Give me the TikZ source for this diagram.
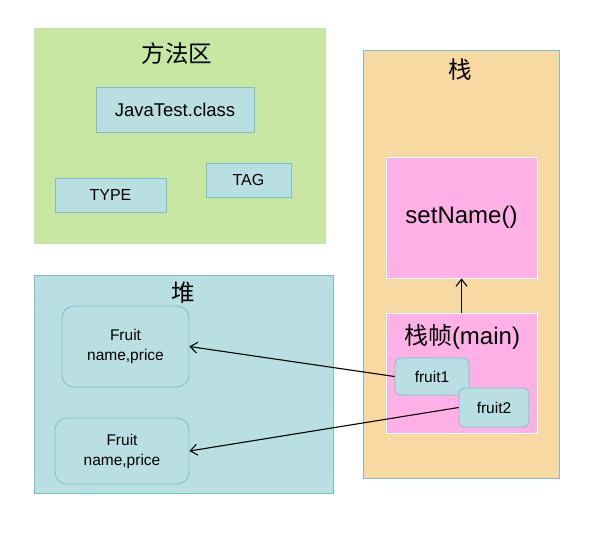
\documentclass[tikz,border=0pt]{standalone}
\usepackage{fontspec}
\setmainfont{Liberation Sans}
\newfontfamily\cjk{Noto Sans CJK SC}
\usetikzlibrary{arrows.meta}
\definecolor{areagreen}{RGB}{198,230,162}
\definecolor{boxblue}{RGB}{185,223,227}
\definecolor{boxline}{RGB}{120,192,202}
\definecolor{stackorange}{RGB}{249,217,162}
\definecolor{framepink}{RGB}{255,176,230}
\tikzset{
  area/.style={draw=boxline,line width=0.8pt,inner sep=0pt},
  membox/.style={fill=boxblue,draw=boxline,line width=0.8pt,inner sep=0pt,font=\fontsize{16}{19}\selectfont},
  objbox/.style={membox,rounded corners=12pt,align=center,font=\fontsize{15.5}{20}\selectfont},
  refbox/.style={membox,rounded corners=6pt,font=\fontsize{15.5}{18}\selectfont},
  framebox/.style={fill=framepink,draw=white,line width=0.8pt,inner sep=0pt},
  title/.style={font=\cjk\fontsize{23.5}{28}\selectfont},
  ref/.style={-{Straight Barb[length=7pt,width=11pt]},line width=1.1pt}
}
\begin{document}
\begin{tikzpicture}[x=1pt,y=-1pt]
  \useasboundingbox (0,0) rectangle (594,542);
  % method area
  \node[area,draw=none,fill=areagreen,minimum width=292pt,minimum height=216pt] (method) at (180,136) {};
  \node[title] (methodtitle) at (177,54) {方法区};
  \node[membox,minimum width=158pt,minimum height=45pt,font=\fontsize{18.5}{22}\selectfont] (javatest) at (175,109.5) {JavaTest.class};
  \node[membox,minimum width=111pt,minimum height=34pt] (type) at (110.5,195) {TYPE};
  \node[membox,minimum width=85pt,minimum height=34pt] (tag) at (248.5,180) {TAG};
  % stack
  \node[area,fill=stackorange,minimum width=196pt,minimum height=428pt] (stack) at (461,264) {};
  \node[title] (stacktitle) at (460,70) {栈};
  \node[framebox,minimum width=151pt,minimum height=121pt,font=\fontsize{24}{28}\selectfont] (setname) at (461.5,217.5) {setName()};
  \node[framebox,minimum width=151pt,minimum height=120pt] (mainframe) at (461.5,373) {};
  \node[font=\fontsize{24}{28}\selectfont] (frametitle) at (462,337) {{\cjk 栈帧}(main)};
  \node[refbox,minimum width=74pt,minimum height=37pt] (fruit1) at (432,376.5) {fruit1};
  \node[refbox,minimum width=70pt,minimum height=39pt] (fruit2) at (494,407.5) {fruit2};
  % heap
  \node[area,fill=boxblue,minimum width=299pt,minimum height=218pt] (heap) at (183.5,384) {};
  \node[title] (heaptitle) at (183,293) {堆};
  \node[objbox,minimum width=127pt,minimum height=81pt] (objA) at (125.5,346.5) {Fruit\\name,price};
  \node[objbox,minimum width=134pt,minimum height=66pt] (objB) at (122,451) {Fruit\\name,price};
  % references
  \draw[ref] (mainframe.north) -- (setname.south);
  \draw[ref] (fruit1.west) -- (objA.east);
  \draw[ref] (fruit2.west) -- (objB.east);
\end{tikzpicture}
\end{document}
